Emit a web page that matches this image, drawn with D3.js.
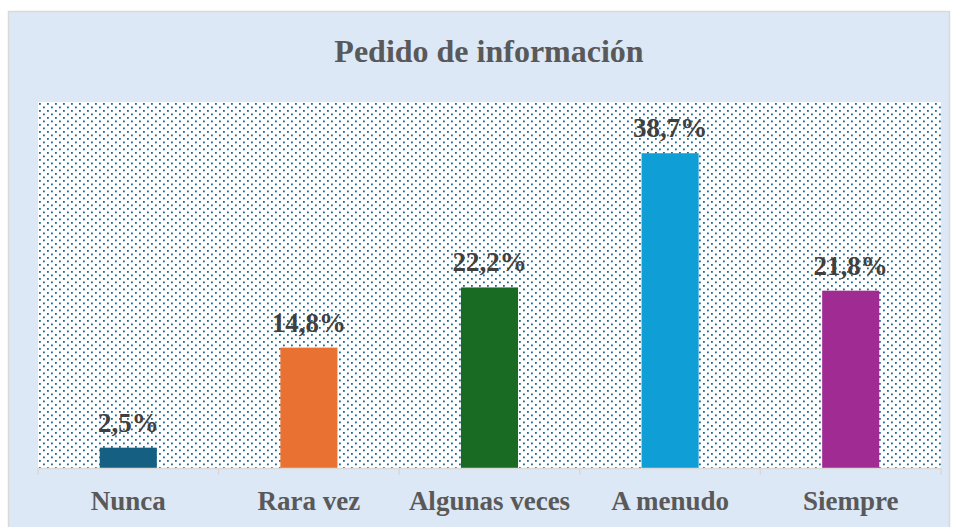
<!DOCTYPE html>
<html>
<head>
<meta charset="utf-8">
<script src="https://cdn.jsdelivr.net/npm/d3@7/dist/d3.min.js"></script>
<style>
  html,body{margin:0;padding:0;background:#fff;}
  svg{display:block;}
</style>
</head>
<body>
<div id="chart"></div>
<script>
const categories = ["Nunca","Rara vez","Algunas veces","A menudo","Siempre"];
const values = [2.5,14.8,22.2,38.7,21.8];
const labels = ["2,5%","14,8%","22,2%","38,7%","21,8%"];
const colors = ["#156082","#E97132","#196B24","#0F9ED5","#A02B93"];
const yMax = 45;

(function(){
  const W=958,H=527;
  const FONT='"Liberation Serif","Times New Roman",serif';
  const svg=d3.select('#chart').append('svg').attr('width',W).attr('height',H);

  // dotted fill for the plot area
  const defs=svg.append('defs');
  const pat=defs.append('pattern').attr('id','dots')
    .attr('patternUnits','userSpaceOnUse').attr('width',8).attr('height',7)
    .attr('x',38).attr('y',102);
  pat.append('rect').attr('width',8).attr('height',7).attr('fill','#fff');
  pat.append('rect').attr('x',1).attr('y',1).attr('width',1.8).attr('height',1.8).attr('fill','#1f6a8c');
  pat.append('rect').attr('x',5).attr('y',4.5).attr('width',1.8).attr('height',1.8).attr('fill','#1f6a8c');

  // chart area
  svg.append('rect').attr('x',8.5).attr('y',11.5).attr('width',941).attr('height',530)
    .attr('fill','#DCE8F5').attr('stroke','#D9D9D9').attr('stroke-width',1.5);

  const plot={l:38,r:941,t:102,b:468};
  svg.append('rect').attr('x',plot.l).attr('y',plot.t)
    .attr('width',plot.r-plot.l).attr('height',plot.b-plot.t).attr('fill','url(#dots)');

  const x=d3.scaleBand().domain(categories).range([plot.l,plot.r]).paddingInner(0.684).paddingOuter(0.342);
  const y=d3.scaleLinear().domain([0,yMax]).range([plot.b,plot.t]);

  svg.append('text').attr('x',489).attr('y',62).attr('text-anchor','middle')
    .style('font-family',FONT)
    .style('font-weight','bold').style('font-size','32px').attr('fill','#595959')
    .text('Pedido de información');

  const data=categories.map((c,i)=>({c,v:values[i],l:labels[i],col:colors[i]}));

  svg.selectAll('rect.bar').data(data).enter().append('rect').attr('class','bar')
    .attr('x',d=>x(d.c)).attr('width',x.bandwidth())
    .attr('y',d=>y(d.v)).attr('height',d=>y(0)-y(d.v)).attr('fill',d=>d.col);

  svg.selectAll('text.val').data(data).enter().append('text').attr('class','val')
    .attr('x',d=>x(d.c)+x.bandwidth()/2).attr('y',d=>y(d.v)-16)
    .attr('text-anchor','middle')
    .style('font-family',FONT)
    .style('font-weight','bold').style('font-size','27px').attr('fill','#404040')
    .text(d=>d.l);

  // category axis
  const xAxis=d3.scaleLinear().domain([0,categories.length]).range([plot.l,plot.r]);
  const ag=svg.append('g');
  ag.append('line').attr('x1',plot.l).attr('x2',plot.r).attr('y1',plot.b+0.5).attr('y2',plot.b+0.5)
    .attr('stroke','#D9D9D9').attr('stroke-width',1.5);
  ag.selectAll('line.tick').data(d3.range(categories.length+1)).enter().append('line')
    .attr('class','tick').attr('x1',d=>xAxis(d)).attr('x2',d=>xAxis(d))
    .attr('y1',plot.b).attr('y2',plot.b+7).attr('stroke','#D9D9D9').attr('stroke-width',1.5);

  svg.selectAll('text.cat').data(data).enter().append('text').attr('class','cat')
    .attr('x',d=>x(d.c)+x.bandwidth()/2).attr('y',510)
    .attr('text-anchor','middle')
    .style('font-family',FONT)
    .style('font-weight','bold').style('font-size','27px').attr('fill','#595959')
    .text(d=>d.c);
})();
</script>
</body>
</html>
